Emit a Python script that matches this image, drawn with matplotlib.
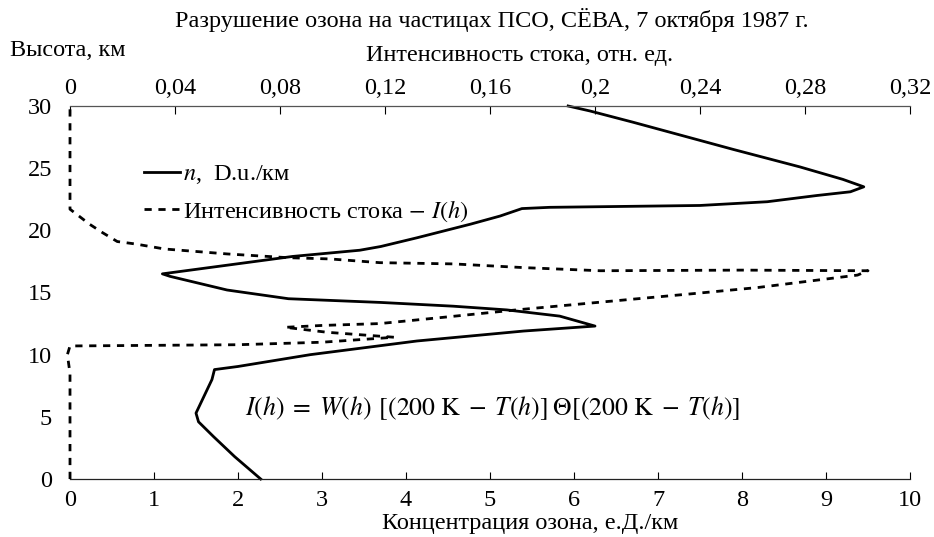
import numpy as np
import matplotlib
matplotlib.use('Agg')
import matplotlib.pyplot as plt

plt.rcParams['font.family'] = ['Liberation Serif', 'DejaVu Serif']
plt.rcParams['mathtext.fontset'] = 'stix'

# ozone concentration n (e.D./km) vs height (km) - bottom axis
n_h = [0, 1.8, 3.4, 4.6, 5.3, 8.0, 8.8, 9.05, 10.0, 11.1, 11.9, 12.3,
       13.1, 13.6, 13.9, 14.2, 14.5, 15.2, 16.3, 16.5, 17.9, 18.4, 18.7,
       19.4, 20.5, 21.15, 21.75, 21.85, 21.9, 22.0, 22.3, 22.8, 23.1, 23.5,
       24.1, 25.1, 26.5, 27.6, 28.7, 29.6, 30.0]
n_val = [2.27, 1.96, 1.71, 1.53, 1.50, 1.69, 1.72, 2.0, 2.86, 4.13, 5.4, 6.25,
         5.83, 5.2, 4.56, 3.7, 2.6, 1.87, 1.19, 1.1, 2.65, 3.45, 3.7,
         4.13, 4.77, 5.12, 5.38, 5.71, 6.31, 7.5, 8.3, 8.89, 9.29, 9.45,
         9.2, 8.69, 7.9, 7.3, 6.7, 6.19, 5.93]

# sink intensity I(h) (rel. units) vs height - top axis
i_h = [0, 8.5, 10.0, 10.7, 10.75, 10.8, 11.0, 11.4, 11.8, 12.2, 12.35, 12.5,
       13.0, 13.6, 14.3, 14.9, 15.4, 15.9, 16.4, 16.75, 16.8, 16.75, 17.0,
       17.3, 17.4, 17.7, 17.8, 18.1, 18.5, 18.9, 19.1, 19.8, 20.5, 21.7, 30.0]
i_val = [0, 0, -0.001, 0, 0.032, 0.064, 0.096, 0.1235, 0.098, 0.082, 0.096, 0.118,
         0.142, 0.170, 0.206, 0.237, 0.262, 0.281, 0.300, 0.304, 0.256, 0.202, 0.173,
         0.146, 0.118, 0.099, 0.083, 0.060, 0.036, 0.025, 0.018, 0.0125, 0.0074, 0, 0]

top_ticks = [0, 0.04, 0.08, 0.12, 0.16, 0.2, 0.24, 0.28, 0.32]
top_labels = ['0', '0,04', '0,08', '0,12', '0,16', '0,2', '0,24', '0,28', '0,32']

W, H = 934, 537
fig = plt.figure(figsize=(W / 100, H / 100), dpi=100)
ax = fig.add_axes([70 / W, 1 - 479 / H, 840 / W, 373 / H])
ax2 = ax.twiny()

fs = 17.5

l1, = ax.plot(n_val, n_h, color='black', lw=2.0, clip_on=False)
l2, = ax2.plot(i_val, i_h, color='black', lw=2.0, linestyle=(0, (2.6, 2.4)),
               clip_on=False)

ax.set_xlim(0, 10)
ax.set_ylim(0, 30)
ax2.set_xlim(0, 0.32)
ax.set_xticks(range(11))
ax.set_yticks(range(0, 31, 5))
ax2.set_xticks(top_ticks)
ax2.set_xticklabels(top_labels)

for a in (ax, ax2):
    for s in ('left', 'right'):
        a.spines[s].set_visible(False)
    a.spines['top'].set_linewidth(0.9)
    a.spines['bottom'].set_linewidth(0.9)
ax.spines['top'].set_visible(False)
ax2.spines['bottom'].set_visible(False)
ax.spines['bottom'].set_color('#222222')
ax2.spines['top'].set_color('#555555')

ax.tick_params(axis='x', direction='in', length=5, width=0.8, labelsize=fs, pad=8)
ax.tick_params(axis='y', length=0, labelsize=fs, pad=13)
ax2.tick_params(axis='x', direction='in', length=6, width=0.8, labelsize=fs, pad=5)

fig.text(492 / W, 1 - 20 / H, 'Разрушение озона на частицах ПСО, СЁВА, 7 октября 1987 г.',
         ha='center', va='center', fontsize=fs)
fig.text(10 / W, 1 - 50 / H, 'Высота, км', ha='left', va='center', fontsize=fs)
fig.text(520 / W, 1 - 55 / H, 'Интенсивность стока, отн. ед.', ha='center', va='center',
         fontsize=fs)
fig.text(530 / W, 1 - 524 / H, 'Концентрация озона, е.Д./км', ha='center', va='center',
         fontsize=fs)
fig.text(245 / W, 1 - 408 / H,
         r'$I(h)\;=\;W(h)\;\,[(200\ \mathrm{K}\;-\;T(h)]\;\Theta[(200\ \mathrm{K}\;-\;T(h)]$',
         ha='left', va='center', fontsize=18.5)

ax.legend([l1, l2], [r'$n$,  D.u./км', r'Интенсивность стока $-\ I(h)$'],
          loc='upper left', bbox_to_anchor=(0.088, 0.846), frameon=False,
          fontsize=fs, handlelength=1.5, handletextpad=0.1, labelspacing=0.5,
          borderaxespad=0, borderpad=0)

fig.savefig('out.png', dpi=100)
